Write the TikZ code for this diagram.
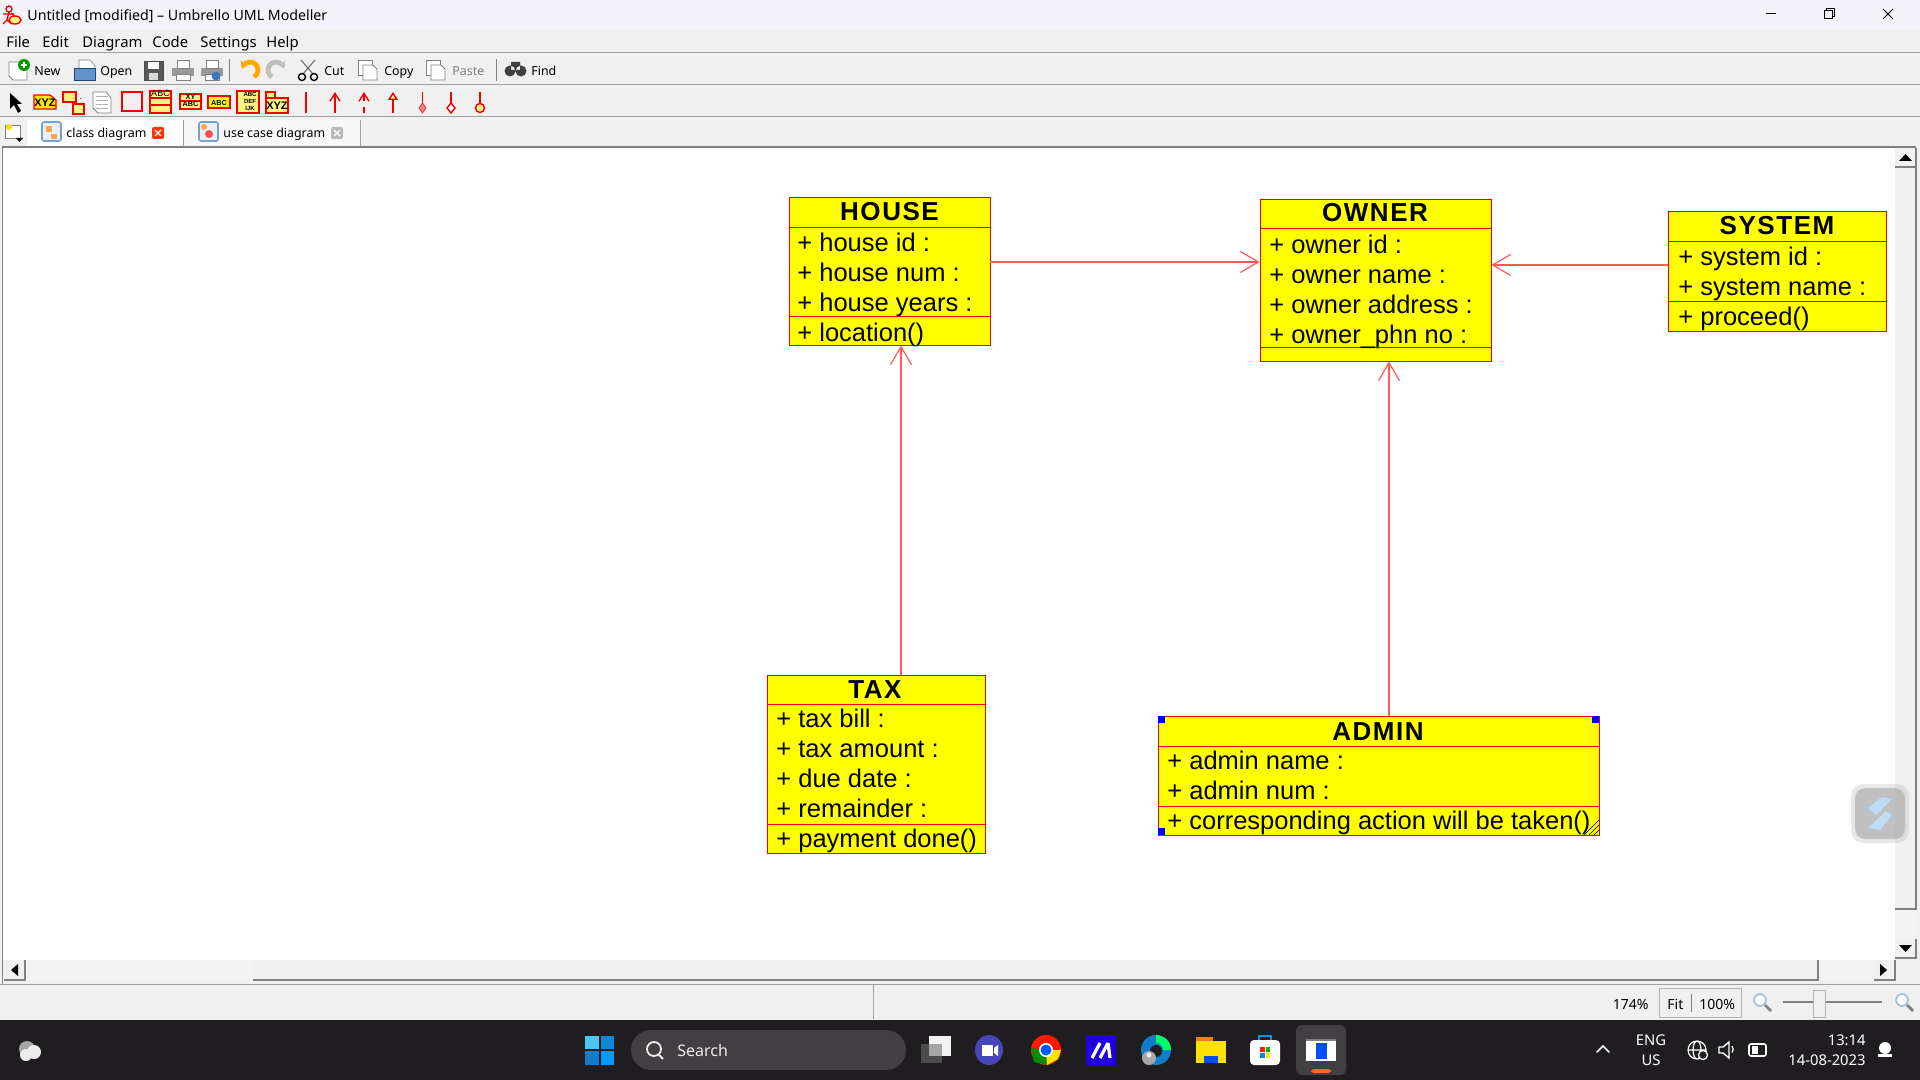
\documentclass[tikz,border=0pt]{standalone}
\usepackage{fontspec}
\setmainfont{Liberation Sans}
\newfontfamily\uiFont{Noto Sans}
\newfontfamily\headFont[LetterSpace=6]{Liberation Sans Bold}
\usetikzlibrary{arrows.meta, fit, positioning}
\definecolor{cWindow}{RGB}{240,240,240}
\definecolor{cTitle}{RGB}{243,243,249}
\definecolor{cRule}{RGB}{160,160,160}
\definecolor{cTask}{RGB}{32,29,33}
\definecolor{cPill}{RGB}{66,62,66}
\definecolor{cYellow}{RGB}{255,255,0}
\definecolor{cLine}{RGB}{255,90,90}
\definecolor{cIcon}{RGB}{245,0,0}
\definecolor{cPale}{RGB}{255,245,130}
\definecolor{cBlue}{RGB}{60,120,190}
\definecolor{cSlash}{RGB}{190,220,245}
\tikzset{
	classbox/.style ={rectangle, draw=cIcon, line width=0.45pt, fill=cYellow, inner sep=0pt},
	classline/.style={draw=cIcon, line width=0.45pt},
	assoc/.style    ={draw=cLine, line width=0.6pt, -{Straight Barb[length=9pt,width=10.5pt]}},
	classhead/.style={anchor=base, inner sep=0pt, font=\headFont\fontsize{13}{15}\selectfont},
	attr/.style     ={anchor=base west, inner sep=0pt, font=\fontsize{12.75}{15}\selectfont},
	uitext/.style   ={anchor=base west, inner sep=0pt, font=\uiFont\fontsize{6.2}{8}\selectfont},
	menutext/.style ={anchor=base west, inner sep=0pt, font=\uiFont\fontsize{7.4}{9}\selectfont},
	tasktext/.style ={anchor=base, inner sep=0pt, text=white, font=\uiFont\fontsize{7.4}{9}\selectfont},
	handle/.style   ={fill=blue},
	barrule/.style  ={draw=cRule, line width=0.5pt},
	scrollbtn/.style={fill=cWindow},
	scrolledge/.style={draw=gray, line width=0.7pt},
	toolred/.style  ={draw=cIcon, line width=0.7pt},
	toolbox/.style  ={draw=cIcon, line width=0.6pt, fill=cPale},
}
\begin{document}
\begin{tikzpicture}[x=0.5pt, y=-0.5pt]
	\useasboundingbox (0,0) rectangle (1920,1080);
	% window frame
	\fill[cWindow] (0,0) rectangle (1920,1020);
	\fill[cTitle] (0,0) rectangle (1920,30);
	\fill[white] (3,148) rectangle (1895,960);
	\draw[gray, line width=0.7pt] (2,147) -- (1916,147);
	\draw[gray, line width=0.4pt] (2,147) -- (2,984);
	\draw[barrule] (0,53) -- (1920,53);
	\draw[barrule] (0,85) -- (1920,85);
	\draw[barrule] (0,117) -- (1920,117);
	\draw[barrule] (0,984) -- (1920,984);
	\draw[barrule] (873,985) -- (873,1019);
	% title bar
	\draw[cIcon, line width=0.7pt] (9,9) circle (3) (9,12) -- (7,20) (3,14) -- (14,14) (7,20) -- (3,24) (7,20) -- (12,24) (11,13) -- (16,18);
	\draw[cIcon, line width=0.7pt, fill=cPale] (15,20) ellipse (6 and 4);
	\node[menutext, font=\uiFont\fontsize{7.1}{9}\selectfont] (titleText) at (27,21) {Untitled [modified] – Umbrello UML Modeller};
	\draw[black, line width=0.5pt] (1766,14) -- (1776,14);
	\draw[black, line width=0.5pt] (1824,11) rectangle (1832,19) (1826,11) -- (1826,9) -- (1834,9) -- (1834,17) -- (1832,17);
	\draw[black, line width=0.5pt] (1883,9) -- (1893,19) (1893,9) -- (1883,19);
	% menu bar
	\foreach \mx/\mname in {6/File, 42/Edit, 82/Diagram, 152/Code, 200/Settings, 266/Help}
		\node[menutext] (menu\mname) at (\mx,48) {\mname};
	% main toolbar
	\foreach \tx/\tname in {34/New, 100/Open, 324/Cut, 384/Copy, 531/Find}
		\node[uitext] (tool\tname) at (\tx,75.5) {\tname};
	\node[uitext, text=gray] (toolPaste) at (452,75.5) {Paste};
	\draw[gray, fill=white, line width=0.4pt] (9,62) -- (22,62) -- (27,68) -- (27,80) -- (13,80) -- (9,76) -- cycle;
	\fill[green!60!black] (24,65) circle (6);
	\draw[white, line width=0.8pt] (24,62) -- (24,68) (21,65) -- (27,65);
	\draw[gray, fill=white, line width=0.3pt] (79,60) -- (90,60) -- (95,66) -- (95,72) -- (79,72) -- cycle;
	\draw[cBlue!60!black, fill=cBlue!80, line width=0.3pt] (74,68) -- (95,68) -- (95,80) -- (74,80) -- cycle;
	\draw[black!70, fill=black!65, line width=0.3pt] (144,61) rectangle (163,80);
	\fill[white] (148,62) rectangle (159,69);
	\fill[black!15] (149,73) rectangle (158,80);
	\foreach \px in {172,201}{
		\fill[gray!80] (\px,68) rectangle ++(22,8);
		\fill[white] (\px+5,60) rectangle ++(12,8);
		\draw[gray, line width=0.3pt] (\px+5,60) rectangle ++(12,8);
		\draw[gray, fill=white, line width=0.3pt] (\px+4,74) rectangle ++(14,6);
	}
	\fill[cBlue] (216,76) circle (4.5);
	\draw[gray, line width=0.4pt] (229,59) -- (229,81) (496,59) -- (496,81);
	\draw[orange!70!yellow, line width=2.4pt, -{Stealth[length=4pt]}] (254,77) arc (60:-170:8);
	\draw[gray!50, line width=2.4pt, -{Stealth[length=4pt]}] (272,77) arc (120:350:8);
	\draw[black!60, line width=0.5pt] (301,60) -- (313,74) (315,60) -- (303,74);
	\draw[black, line width=0.7pt] (302,77) circle (3.5) (314,77) circle (3.5);
	\foreach \px in {358,426}{
		\draw[gray, fill=white, line width=0.4pt] (\px,60) rectangle ++(14,15);
		\draw[gray, fill=white, line width=0.4pt] (\px+5,65) -- ++(10,0) -- ++(4,4) -- ++(0,11) -- ++(-14,0) -- cycle;
	}
	\fill[black!75] (510,71) circle (5.5) (521,71) circle (5.5) (511,62) rectangle (520,70);
	% uml toolbar
	\fill[black] (10,93) -- (10,109) -- (14,105) -- (18,113) -- (21,111) -- (17,104) -- (22,104) -- cycle;
	\draw[toolbox, fill=cYellow!80!orange] (34,95) -- (50,95) -- (56,100) -- (56,109) -- (34,109) -- cycle;
	\node[anchor=base, inner sep=0pt, font=\bfseries\fontsize{5.5}{6}\selectfont] (toolXyz) at (45,107) {XYZ};
	\draw[toolbox] (63,92) rectangle (76,102);
	\draw[toolbox] (73,104) rectangle (84,114);
	\draw[cIcon, dotted, line width=0.4pt] (76,97) -- (80,97) -- (80,104);
	\draw[draw=gray, fill=white, line width=0.4pt] (93,92) -- (106,92) -- (111,98) -- (111,113) -- (98,113) -- (93,108) -- cycle;
	\foreach \ny in {96,100,104,108}
		\draw[gray!60, line width=0.3pt] (96,\ny) -- (108,\ny);
	\draw[toolred] (122,92) rectangle (142,111);
	\draw[toolbox] (150,91) rectangle (171,113);
	\draw[toolred] (150,98) -- (171,98) (150,105) -- (171,105);
	\node[anchor=base, inner sep=0pt, font=\fontsize{4.5}{5}\selectfont] (toolAbc) at (160.5,97) {ABC};
	\draw[toolbox] (180,94) rectangle (201,109);
	\draw[toolred] (180,101) -- (201,101);
	\node[anchor=base, inner sep=0pt, font=\bfseries\fontsize{3.6}{4}\selectfont] (toolIfaceA) at (190.5,100) {XY};
	\node[anchor=base, inner sep=0pt, font=\bfseries\fontsize{3.6}{4}\selectfont] (toolAbcA) at (190.5,107) {ABC};
	\draw[toolbox, fill=cYellow] (208,96) rectangle (230,108);
	\node[anchor=base, inner sep=0pt, font=\bfseries\fontsize{3.6}{4}\selectfont] (toolIfaceB) at (219,106) {ABC};
	\draw[toolbox] (237,91) rectangle (259,113);
	\foreach \ey/\etxt in {97/ABC, 104/DEF, 111/IJK}
		\node[anchor=base, inner sep=0pt, font=\bfseries\fontsize{3}{4}\selectfont] (toolEnum\etxt) at (250,\ey) {\etxt};
	\draw[toolbox] (266,92) rectangle (275,98);
	\draw[toolbox] (266,98) rectangle (288,113);
	\node[anchor=base, inner sep=0pt, font=\bfseries\fontsize{5.5}{6}\selectfont] (toolPkg) at (277,110) {XYZ};
	\draw[toolred] (306,92) -- (306,113);
	\draw[toolred, -{Straight Barb[length=4pt,width=5pt]}] (335,113) -- (335,92);
	\draw[toolred, dashed, -{Straight Barb[length=4pt,width=5pt]}] (364,113) -- (364,92);
	\draw[toolred, -{Triangle[open, fill=cPale, length=4pt, width=5pt]}] (393,113) -- (393,92);
	\draw[toolred] (422.5,92) -- (422.5,104);
	\draw[cIcon!80, fill=cIcon!50, line width=0.4pt] (422.5,103) -- (426,108) -- (422.5,113) -- (419,108) -- cycle;
	\draw[toolred] (451,92) -- (451,103);
	\draw[toolred, fill=white] (451,103) -- (455,108) -- (451,113) -- (447,108) -- cycle;
	\draw[toolred] (480,92) -- (480,103);
	\draw[toolred, fill=cPale] (480,108) circle (4.5);
	% tabs
	\fill[white] (27,120) rectangle (183,146);
	\fill[cWindow!50!white] (184,120) rectangle (360,146);
	\draw[barrule] (183,120) -- (183,146) (360,120) -- (360,146);
	\draw[gray, fill=white, line width=0.4pt] (5,125) rectangle (20,138);
	\fill[yellow!80!orange] (9,127) circle (3);
	\fill[black] (16,138) -- (23,138) -- (19.5,142) -- cycle;
	\foreach \ix in {42,199}
		\draw[cBlue!70, fill=cBlue!12, line width=0.8pt, rounded corners=1pt] (\ix,122) rectangle ++(19,19);
	\fill[orange!70] (46,126) rectangle (52,132);
	\fill[orange!70] (51,134) rectangle (57,139);
	\fill[red!70] (209,134) circle (4);
	\fill[orange!70] (204,127) circle (3);
	\node[uitext] (tabClass) at (66,137.5) {class diagram};
	\node[uitext] (tabUseCase) at (223,137.5) {use case diagram};
	\fill[red!60!orange, rounded corners=1pt] (152,127) rectangle (164,139);
	\draw[white, line width=0.7pt] (155,130) -- (161,136) (161,130) -- (155,136);
	\fill[gray!55, rounded corners=1pt] (331,127) rectangle (343,139);
	\draw[white, line width=0.7pt] (334,130) -- (340,136) (340,130) -- (334,136);
	% scroll bars
	\fill[white!95!black] (1895,148) rectangle (1916,960);
	\fill[white!95!black] (3,960) rectangle (1895,980);
	\fill[scrollbtn] (1895,148) rectangle (1916,909);
	\draw[scrolledge] (1916,148) -- (1916,909) -- (1895,909);
	\draw[scrolledge] (1916,148) -- (1916,167) -- (1895,167);
	\fill[black] (1899,161) -- (1905.5,154) -- (1912,161) -- cycle;
	\fill[scrollbtn] (1895,939) rectangle (1916,958);
	\draw[scrolledge] (1916,939) -- (1916,958) -- (1895,958);
	\fill[black] (1899,945) -- (1905.5,952) -- (1912,945) -- cycle;
	\fill[scrollbtn] (253,960) rectangle (1818,980);
	\draw[scrolledge] (1818,960) -- (1818,980) -- (253,980);
	\fill[scrollbtn] (4,960) rectangle (25,980);
	\draw[scrolledge] (25,960) -- (25,980) -- (4,980);
	\fill[black] (18,964) -- (11,970) -- (18,976) -- cycle;
	\fill[scrollbtn] (1874,960) rectangle (1895,980);
	\draw[scrolledge] (1895,960) -- (1895,980) -- (1874,980);
	\fill[black] (1880,964) -- (1887,970) -- (1880,976) -- cycle;
	% status bar
	\node[uitext, anchor=base east, font=\uiFont\fontsize{7}{8}\selectfont] (zoomValue) at (1649,1009) {174\%};
	\draw[draw=gray!60, fill=cWindow, line width=0.4pt] (1659,988) rectangle (1741,1017);
	\draw[gray, line width=0.4pt] (1691,994) -- (1691,1012);
	\node[uitext, font=\uiFont\fontsize{7}{8}\selectfont] (zoomFit) at (1667,1009) {Fit};
	\node[uitext, font=\uiFont\fontsize{7}{8}\selectfont] (zoomFull) at (1699,1009) {100\%};
	\foreach \zx in {1762,1904}{
		\draw[cBlue!50, fill=white, line width=0.8pt] (\zx-2,1000) circle (6);
		\draw[gray, line width=1.4pt] (\zx+3,1005) -- (\zx+9,1011);
	}
	\draw[gray, line width=0.7pt] (1783,1002) -- (1882,1002);
	\draw[draw=gray!60, fill=cWindow, line width=0.4pt] (1813,990) rectangle (1825,1017);
	% taskbar
	\fill[cTask] (0,1020) rectangle (1920,1080);
	\fill[gray!70] (27,1049) circle (8);
	\fill[white!85!gray] (34,1052) circle (7) (26,1055) circle (6);
	\fill[cyan!70] (585,1036) rectangle (598.5,1049);
	\fill[cyan!70!blue] (600.5,1036) rectangle (614,1049);
	\fill[cyan!60!blue] (585,1051) rectangle (598.5,1065);
	\fill[blue!40!cyan] (600.5,1051) rectangle (614,1065);
	\fill[cPill, rounded corners=10pt] (631,1030) rectangle (906,1070);
	\draw[white!85!gray, line width=0.9pt] (654,1049) circle (7) (659,1055) -- (663,1059);
	\node[tasktext, anchor=base west, font=\uiFont\fontsize{8}{9}\selectfont, text=white!85!gray] (searchText) at (677,1056) {Search};
	\fill[gray!60!black] (921,1044) rectangle (942,1063);
	\fill[white!90!gray] (929,1036) rectangle (951,1056);
	\fill[gray!70] (929,1044) rectangle (942,1056);
	\fill[blue!45!gray] (989,1050) ellipse (14 and 15);
	\fill[white] (982,1045) rectangle (993,1056);
	\fill[white] (994,1048) -- (998,1045) -- (998,1056) -- (994,1053) -- cycle;
	\fill[red!80!orange] (1046,1050) circle (15);
	\fill[green!55!black] (1046,1050) -- (1031,1048) -- (1034,1062) -- (1047,1065) -- cycle;
	\fill[yellow!85!orange] (1046,1050) -- (1061,1050) -- (1058,1059) -- (1047,1065) -- cycle;
	\fill[white] (1046,1050) circle (7);
	\fill[blue!65!cyan] (1046,1050) circle (5.5);
	\fill[blue!75!violet] (1086,1035) rectangle (1116,1065);
	\draw[white, line width=1.6pt] (1092,1058) -- (1100,1043) (1100,1058) -- (1108,1043) (1108,1043) -- (1110,1058);
	\fill[cyan!60!blue] (1156,1050) circle (15);
	\fill[green!60!cyan] (1156,1035) arc (-90:0:15) -- (1163,1050) arc (0:-90:7) -- cycle;
	\fill[cTask] (1156,1051) circle (6);
	\fill[gray!70] (1149,1058) circle (7);
	\fill[white!85!gray] (1149,1055) circle (2.5);
	\fill[orange!70!brown] (1196,1037) rectangle (1213,1045);
	\fill[yellow!85!orange] (1196,1041) rectangle (1226,1063);
	\fill[blue!70!cyan] (1204,1056) rectangle (1218,1063);
	\draw[cyan!80!blue, line width=0.8pt] (1259,1041) -- (1259,1036) -- (1271,1036) -- (1271,1041);
	\fill[white, rounded corners=2pt] (1250,1040) rectangle (1280,1065);
	\fill[red!80!orange] (1260,1047) rectangle (1264.5,1052);
	\fill[green!70!black] (1265.5,1047) rectangle (1270,1052);
	\fill[cyan!70!blue] (1260,1053) rectangle (1264.5,1058);
	\fill[yellow!90!orange] (1265.5,1053) rectangle (1270,1058);
	\fill[white!15!cTask, rounded corners=3pt] (1296,1025) rectangle (1346,1075);
	\fill[white] (1306,1039) rectangle (1336,1061);
	\fill[gray] (1306,1039) rectangle (1336,1041);
	\fill[blue!70!cyan] (1316,1043) rectangle (1327,1059);
	\fill[red!55!orange!80, rounded corners=1.5pt] (1311,1069) rectangle (1331,1073);
	\draw[white, line width=0.8pt, line cap=round] (1597,1052) -- (1603,1046) -- (1609,1052);
	\node[tasktext] (trayEng) at (1651,1045) {ENG};
	\node[tasktext] (trayUs) at (1651,1065) {US};
	\draw[white, line width=0.6pt] (1697,1050) circle (9) (1697,1050) ellipse (4 and 9) (1688,1050) -- (1706,1050);
	\draw[white, fill=cTask, line width=0.6pt] (1703,1055) circle (4.5);
	\draw[white, line width=0.7pt] (1719,1047) -- (1723,1047) -- (1729,1042) -- (1729,1058) -- (1723,1053) -- (1719,1053) -- cycle;
	\draw[white, line width=0.6pt] (1732,1046) arc (-40:40:5);
	\draw[white, line width=0.8pt, rounded corners=1pt] (1749,1044) rectangle (1766,1056);
	\fill[white] (1752,1046) rectangle (1758,1054);
	\node[tasktext, anchor=base east] (trayTime) at (1866,1045) {13:14};
	\node[tasktext, anchor=base east] (trayDate) at (1866,1065) {14-08-2023};
	\fill[white] (1885,1048) circle (6);
	\fill[white] (1878,1054) rectangle (1892,1057);
	% floating widget
	\fill[gray!50, opacity=0.35, rounded corners=6pt] (1851,784) rectangle (1909,843);
	\fill[gray!70, opacity=0.6, rounded corners=5pt] (1855,788) rectangle (1905,839);
	\fill[cSlash] (1868,808) -- (1882,797) -- (1892,799) -- (1876,815) -- cycle;
	\fill[cSlash] (1868,828) -- (1886,811) -- (1892,815) -- (1880,830) -- cycle;
	% classes
	\node[classbox, fit={(789,197) (990,345)}] (houseBox) {};
	\node[classbox, fit={(1260,199) (1491,361)}] (ownerBox) {};
	\node[classbox, fit={(1668,211) (1886,331)}] (systemBox) {};
	\node[classbox, fit={(767,675) (985,853)}] (taxBox) {};
	\node[classbox, fit={(1158,716) (1599,835)}] (adminBox) {};
	\draw[classline] (houseBox.west |- 0,227) -- (houseBox.east |- 0,227);
	\draw[classline] (houseBox.west |- 0,316) -- (houseBox.east |- 0,316);
	\draw[classline] (ownerBox.west |- 0,228) -- (ownerBox.east |- 0,228);
	\draw[classline] (ownerBox.west |- 0,347) -- (ownerBox.east |- 0,347);
	\draw[classline] (systemBox.west |- 0,241) -- (systemBox.east |- 0,241);
	\draw[classline] (systemBox.west |- 0,301) -- (systemBox.east |- 0,301);
	\draw[classline] (taxBox.west |- 0,704) -- (taxBox.east |- 0,704);
	\draw[classline] (taxBox.west |- 0,824) -- (taxBox.east |- 0,824);
	\draw[classline] (adminBox.west |- 0,746) -- (adminBox.east |- 0,746);
	\draw[classline] (adminBox.west |- 0,806) -- (adminBox.east |- 0,806);
	\node[classhead] (houseHead) at (889.5,221) {HOUSE};
	\node[classhead] (ownerHead) at (1375,222) {OWNER};
	\node[classhead] (systemHead) at (1777,235) {SYSTEM};
	\node[classhead] (taxHead) at (875,698) {TAX};
	\node[classhead] (adminHead) at (1378,740) {ADMIN};
	\foreach \txt [count=\i] in {house id :, house num :, house years :, location()}
		\node[attr] (houseAttr\i) at (797,{222+30*\i}) {+ \txt};
	\foreach \txt [count=\i] in {owner id :, owner name :, owner address :, owner\_phn no :}
		\node[attr] (ownerAttr\i) at (1269,{223.5+30*\i}) {+ \txt};
	\foreach \txt [count=\i] in {system id :, system name :, proceed()}
		\node[attr] (systemAttr\i) at (1678,{236+30*\i}) {+ \txt};
	\foreach \txt [count=\i] in {tax bill :, tax amount :, due date :, remainder :, payment done()}
		\node[attr] (taxAttr\i) at (776,{698+29.8*\i}) {+ \txt};
	\foreach \txt [count=\i] in {admin name :, admin num :, corresponding action will be taken()}
		\node[attr] (adminAttr\i) at (1167,{740+29.8*\i}) {+ \txt};
	% selection marks on admin
	\fill[handle] (1158,716) rectangle ++(7,7);
	\fill[handle] (1592,716) rectangle ++(7,7);
	\fill[handle] (1158,828) rectangle ++(7,7);
	\foreach \hx in {0,5,10}
		\draw[black, line width=0.25pt] (1584+\hx,835) -- (1599,820+\hx);
	% associations
	\draw[assoc] (houseBox.east |- 0,262) -- (ownerBox.west |- 0,262);
	\draw[assoc] (systemBox.west |- 0,265) -- (ownerBox.east |- 0,265);
	\draw[assoc] (taxBox.north -| 901,0) -- (houseBox.south -| 901,0);
	\draw[assoc] (adminBox.north -| 1389,0) -- (ownerBox.south -| 1389,0);
\end{tikzpicture}
\end{document}
